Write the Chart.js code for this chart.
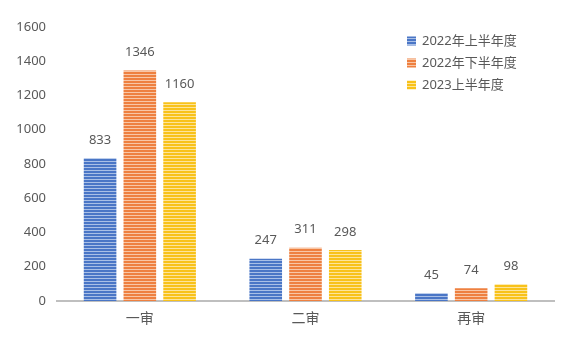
<!DOCTYPE html>
<html>
<head>
<meta charset="utf-8">
<script src="https://cdn.jsdelivr.net/npm/chart.js@4"></script>
<style>
  html, body { margin: 0; padding: 0; background: #fff; }
  #wrap { width: 572px; height: 352px; }
</style>
</head>
<body>
<div id="wrap"><canvas id="chart" width="572" height="352"></canvas></div>
<script>
const categories = ['一审', '二审', '再审'];
const seriesNames = ['2022年上半年度', '2022年下半年度', '2023上半年度'];
const firstHalf2022 = [833, 247, 45];
const secondHalf2022 = [1346, 311, 74];
const firstHalf2023 = [1160, 298, 98];
const yTicks = [0, 200, 400, 600, 800, 1000, 1200, 1400, 1600];

const FONT = '"Noto Sans", "Noto Sans CJK SC", sans-serif';
const TEXT = '#595959';

function stripes(main, light) {
  const c = document.createElement('canvas');
  c.width = 4; c.height = 3;
  const g = c.getContext('2d');
  g.fillStyle = main; g.fillRect(0, 0, 4, 2);
  g.fillStyle = light; g.fillRect(0, 2, 4, 1);
  return g.createPattern(c, 'repeat');
}
const ctx = document.getElementById('chart').getContext('2d');
const fills = [
  stripes('#4a76c6', '#a9bfe6'),
  stripes('#ee8040', '#f8c6a6'),
  stripes('#f8c21a', '#fde49a')
];

const labelPlugin = {
  id: 'labels',
  afterDatasetsDraw(chart) {
    const c = chart.ctx;
    c.save();
    c.font = '13px ' + FONT;
    c.fillStyle = TEXT;
    c.textAlign = 'center';
    c.textBaseline = 'middle';
    chart.data.datasets.forEach((ds, i) => {
      chart.getDatasetMeta(i).data.forEach((bar, j) => {
        c.fillText(ds.data[j], bar.x, bar.y - 18);
      });
    });
    // legend
    c.font = '13px ' + FONT;
    c.textAlign = 'left';
    chart.data.datasets.forEach((ds, i) => {
      const y = 41 + i * 22;
      c.fillStyle = ds.backgroundColor;
      c.fillRect(407, y - 4.5, 9, 9);
      c.fillStyle = TEXT;
      c.fillText(ds.label, 422, y);
    });
    c.restore();
  }
};

new Chart(ctx, {
  type: 'bar',
  data: {
    labels: categories,
    datasets: [
      { label: seriesNames[0], data: firstHalf2022, backgroundColor: fills[0] },
      { label: seriesNames[1], data: secondHalf2022, backgroundColor: fills[1] },
      { label: seriesNames[2], data: firstHalf2023, backgroundColor: fills[2] }
    ]
  },
  options: {
    responsive: false,
    animation: false,
    layout: { padding: { left: 0, right: 18, top: 27, bottom: 0 } },
    datasets: { bar: { categoryPercentage: 0.72, barPercentage: 0.82 } },
    plugins: { legend: { display: false }, tooltip: { enabled: false } },
    scales: {
      x: {
        grid: { display: false, drawTicks: false },
        border: { display: true, color: '#bfbfbf', width: 2 },
        ticks: { color: TEXT, font: { size: 14, family: FONT }, padding: 10 },
        afterFit(s) { s.height = 51; }
      },
      y: {
        min: 0, max: 1600,
        grid: { display: false, drawTicks: false },
        border: { display: false },
        afterBuildTicks(s) { s.ticks = yTicks.map(v => ({ value: v })); },
        ticks: { color: TEXT, font: { size: 13, family: FONT }, padding: 11, callback: v => String(v) },
        afterFit(s) { s.width = 57; }
      }
    }
  },
  plugins: [labelPlugin]
});
</script>
</body>
</html>
